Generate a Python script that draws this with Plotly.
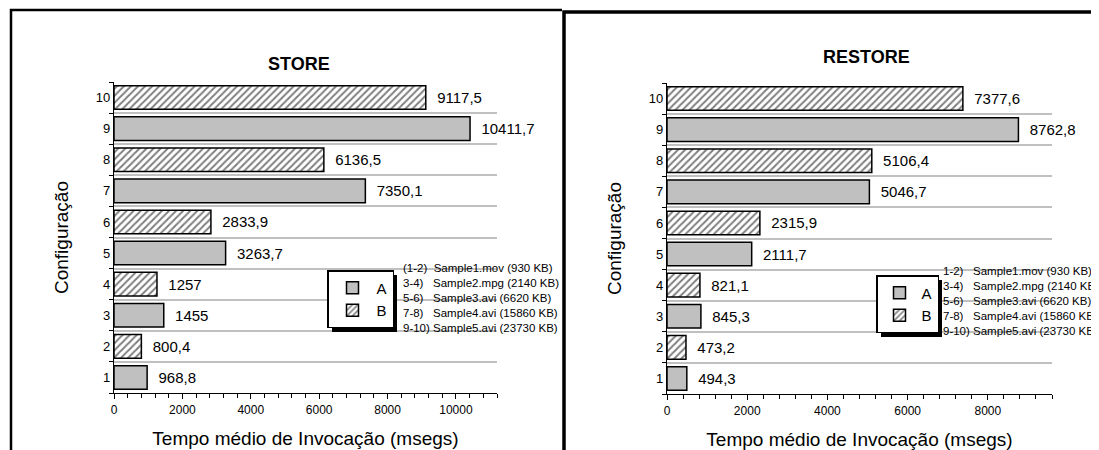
import plotly.graph_objects as go

# dados
configs = [1, 2, 3, 4, 5, 6, 7, 8, 9, 10]
grupo = ["A", "B", "A", "B", "A", "B", "A", "B", "A", "B"]
store_ms = [968.8, 800.4, 1455, 1257, 3263.7, 2833.9, 7350.1, 6136.5, 10411.7, 9117.5]
restore_ms = [494.3, 473.2, 845.3, 821.1, 2111.7, 2315.9, 5046.7, 5106.4, 8762.8, 7377.6]

notas_store = ["(1-2)\u00a0\u00a0Sample1.mov (930 KB)",
               "3-4)\u00a0\u00a0\u00a0Sample2.mpg (2140 KB)",
               "5-6)\u00a0\u00a0\u00a0Sample3.avi (6620 KB)",
               "7-8)\u00a0\u00a0\u00a0Sample4.avi (15860 KB)",
               "9-10) Sample5.avi (23730 KB)"]
notas_restore = ["1-2)\u00a0\u00a0\u00a0Sample1.mov (930 KB)",
                 "3-4)\u00a0\u00a0\u00a0Sample2.mpg (2140 KB)",
                 "5-6)\u00a0\u00a0\u00a0Sample3.avi (6620 KB)",
                 "7-8)\u00a0\u00a0\u00a0Sample4.avi (15860 KB)",
                 "9-10) Sample5.avi (23730 KB)"]

# a pagina tem margem de 8px no body
OFF = 8
W, H = 1099 - OFF, 450 - OFF
FONT = "Liberation Sans, Arial, Helvetica, sans-serif"


def px(x):
    return (x - OFF) / W


def py(y):
    return 1 - (y - OFF) / H


fig = go.Figure()


def add_bars(vals, xa, ya, leg):
    for g in ["A", "B"]:
        xs = [v for v, gg in zip(vals, grupo) if gg == g]
        ys = [c for c, gg in zip(configs, grupo) if gg == g]
        txt = ["\u00a0\u00a0" + f"{v:g}".replace(".", ",") for v in xs]
        if g == "A":
            marker = dict(color="#c0c0c0", line=dict(color="black", width=1.5))
        else:
            marker = dict(color="white", line=dict(color="black", width=1.5),
                          pattern=dict(shape="/", fgcolor="black", bgcolor="white",
                                       size=5, solidity=0.4))
        fig.add_trace(go.Bar(x=xs, y=ys, orientation="h", name=g, marker=marker,
                             width=0.76, text=txt, textposition="outside",
                             textfont=dict(size=15, color="black", family=FONT),
                             cliponaxis=False, xaxis=xa, yaxis=ya, legend=leg))


add_bars(store_ms, "x", "y", "legend")
add_bars(restore_ms, "x2", "y2", "legend2")

xcommon = dict(showline=True, linecolor="black", linewidth=1.2, ticks="outside",
               ticklen=5, tickcolor="black", tick0=0, dtick=2000, tickformat="d",
               showgrid=False, zeroline=False, tickfont=dict(size=12, color="black"),
               minor=dict(dtick=400, ticks="outside", ticklen=4, tickcolor="black"),
               automargin=False)
ycommon = dict(showline=True, linecolor="black", linewidth=1.2, range=[0.5, 10.5],
               tickmode="linear", tick0=1, dtick=1, ticks="", showgrid=False,
               zeroline=False, tickfont=dict(size=13, color="black"),
               minor=dict(tick0=0.5, dtick=1, ticks="outside", ticklen=4,
                          tickcolor="black", showgrid=True, gridcolor="#c0c0c0",
                          gridwidth=1.5),
               automargin=False)
xtitle = dict(text="Tempo médio de Invocação (msegs)", font=dict(size=19), standoff=16)
ytitle = dict(text="Configuração", font=dict(size=19), standoff=22)

fig.update_layout(
    xaxis=dict(xcommon, domain=[px(114), px(497)], range=[0, 11200], anchor="y",
               title=xtitle),
    yaxis=dict(ycommon, domain=[py(393), py(82)], anchor="x", title=ytitle),
    xaxis2=dict(xcommon, domain=[px(667), px(1052)], range=[0, 9600], anchor="y2",
                title=xtitle),
    yaxis2=dict(ycommon, domain=[py(394), py(83)], anchor="x2", title=ytitle),
    barmode="overlay",
    width=W, height=H,
    margin=dict(l=0, r=0, t=0, b=0),
    paper_bgcolor="white", plot_bgcolor="white",
    font=dict(family=FONT, color="black"),
    legend=dict(x=px(327), y=py(270), xanchor="left", yanchor="top",
                bgcolor="white", bordercolor="black", borderwidth=1.5,
                font=dict(size=15), traceorder="normal", itemwidth=38),
    legend2=dict(x=px(876), y=py(275), xanchor="left", yanchor="top",
                 bgcolor="white", bordercolor="black", borderwidth=1.5,
                 font=dict(size=15), traceorder="normal", itemwidth=34),
)

# titulos
fig.add_annotation(text="<b>STORE</b>", x=px(299), y=py(64), xref="paper", yref="paper",
                   xanchor="center", yanchor="middle", showarrow=False, font=dict(size=18))
fig.add_annotation(text="<b>RESTORE</b>", x=px(866), y=py(57), xref="paper", yref="paper",
                   xanchor="center", yanchor="middle", showarrow=False, font=dict(size=18))

# notas dos ficheiros
fig.add_annotation(text="<br>".join(notas_store), x=px(401), y=py(260), xref="paper",
                   yref="paper", xanchor="left", yanchor="top", align="left",
                   showarrow=False, font=dict(size=11.5))
fig.add_annotation(text="<br>".join(notas_restore), x=px(941), y=py(263), xref="paper",
                   yref="paper", xanchor="left", yanchor="top", align="left",
                   showarrow=False, font=dict(size=11.5))

# sombras das legendas e molduras
shapes = [
    dict(type="rect", x0=px(332), x1=px(397), y0=py(332), y1=py(275), fillcolor="black",
         line=dict(width=0), layer="above"),
    dict(type="rect", x0=px(881), x1=px(942), y0=py(337), y1=py(280), fillcolor="black",
         line=dict(width=0), layer="above"),
    dict(type="path", path=f"M {px(11)} {py(452)} L {px(11)} {py(10)} L {px(562)} {py(10)}",
         line=dict(color="black", width=2.5)),
    dict(type="path", path=f"M {px(564)} {py(452)} L {px(564)} {py(12)} L {px(1099)} {py(12)}",
         line=dict(color="black", width=3.5)),
]
for s in shapes:
    s.setdefault("xref", "paper")
    s.setdefault("yref", "paper")
    fig.add_shape(**s)

fig.write_html("out.html")
